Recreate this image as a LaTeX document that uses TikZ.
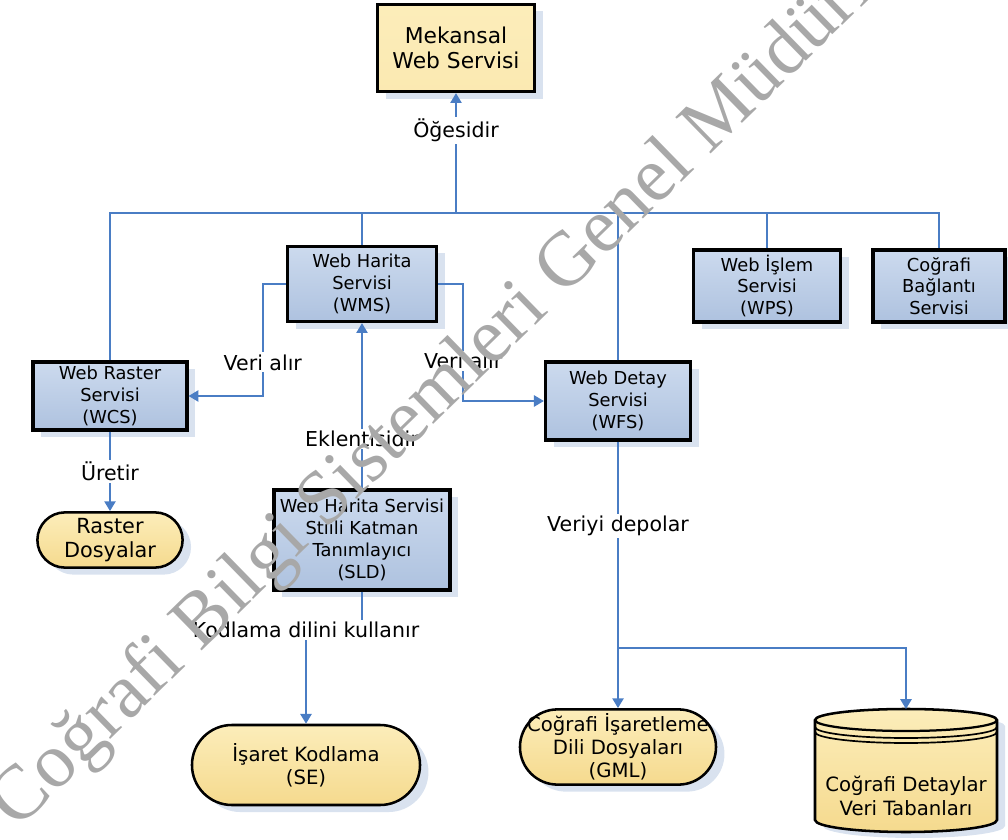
\documentclass[tikz,border=0pt]{standalone}
\usepackage{fontspec}
\setmainfont{DejaVu Sans}
\newfontfamily\wmfont{Liberation Serif}
\usetikzlibrary{shadows, arrows.meta}

\definecolor{svcblue}{HTML}{CCDAEE}
\definecolor{svcblue2}{HTML}{AEC2DF}
\definecolor{docyel}{HTML}{FCEDBA}
\definecolor{docyel2}{HTML}{F5DA8E}
\definecolor{wireblue}{HTML}{4A7DC4}
\definecolor{shadowblue}{HTML}{D9E2EF}
\definecolor{wmgray}{HTML}{A8A8A8}

\begin{document}
\begin{tikzpicture}[
  x=0.025cm, y=-0.025cm,
  font=\fontsize{12.7}{15.5}\selectfont,
  >={Triangle[length=7pt,width=8pt]},
  ln/.style={wireblue, line width=1.3pt},
  arr/.style={->, ln},
  shd/.style={drop shadow={shadow xshift=6pt, shadow yshift=-5pt,
              fill=shadowblue, opacity=1}},
  box/.style={draw=black, line width=2.2pt, align=center, inner sep=1pt,
              top color=svcblue, bottom color=svcblue2, shd},
  mainbox/.style={box, top color=docyel, bottom color=docyel!80!docyel2,
              font=\fontsize{15.5}{17.5}\selectfont},
  pill/.style={draw=black, line width=1.8pt, align=center, inner sep=0pt,
              rounded corners=#1, top color=docyel, bottom color=docyel2, shd,
              font=\fontsize{14}{16.5}\selectfont},
  lbl/.style={fill=white, text=black, inner sep=1.5pt,
              font=\fontsize{14.6}{16}\selectfont},
  wm/.style={text=wmgray, font=\wmfont\fontsize{55}{60}\selectfont},
]
\useasboundingbox (0,0) rectangle (1008,840);

%% ===== TOP =====
\node[mainbox, minimum width=3.93cm, minimum height=2.18cm] (mek) at (456,48)
    {Mekansal\\Web Servisi};

%% ===== SERVICES =====
\node[box, minimum width=3.73cm, minimum height=1.88cm] (wms) at (362,284)
    {Web Harita\\Servisi\\(WMS)};
\node[box, minimum width=3.85cm, minimum height=1.7cm] (wcs) at (110,396)
    {Web Raster\\Servisi\\(WCS)};
\node[box, minimum width=3.63cm, minimum height=1.95cm] (wfs) at (618,401)
    {Web Detay\\Servisi\\(WFS)};
\node[box, minimum width=3.68cm, minimum height=1.8cm] (wps) at (767,286)
    {Web İşlem\\Servisi\\(WPS)};
\node[box, minimum width=3.3cm, minimum height=1.8cm] (cbs) at (939,286)
    {Coğrafi\\Bağlantı\\Servisi};
\node[box, minimum width=4.4cm, minimum height=2.5cm] (sld) at (362,540)
    {Web Harita Servisi\\Stiili Katman\\Tanımlayıcı\\(SLD)};

%% ===== FILES =====
\node[pill=0.69cm, minimum width=3.63cm, minimum height=1.38cm,
      font=\fontsize{14.8}{17}\selectfont] (raster) at (110,540)
    {Raster\\Dosyalar};
\node[pill=1cm, minimum width=5.7cm, minimum height=2cm] (se) at (306,765)
    {İşaret Kodlama\\(SE)};
\node[pill=0.94cm, minimum width=4.9cm, minimum height=1.88cm] (gml) at (618,747)
    {Coğrafi İşaretleme\\Dili Dosyaları\\(GML)};

%% ===== DATABASE =====
\fill[shadowblue, shift={(8,6)}] (815,720) -- (815,820)
    arc[start angle=180, end angle=0, x radius=91, y radius=12] -- (997,720)
    arc[start angle=0, end angle=-180, x radius=91, y radius=11] -- cycle;
\draw[line width=1.8pt, top color=docyel, bottom color=docyel2] (815,720) -- (815,820)
    arc[start angle=180, end angle=0, x radius=91, y radius=12] -- (997,720)
    arc[start angle=0, end angle=-180, x radius=91, y radius=11] -- cycle;
\draw[line width=1.6pt] (815,720) arc[start angle=180, end angle=0, x radius=91, y radius=11];
\draw[line width=1.2pt] (815,727) arc[start angle=180, end angle=0, x radius=91, y radius=11];
\draw[line width=1.2pt] (815,732) arc[start angle=180, end angle=0, x radius=91, y radius=11];
\node[align=center, font=\fontsize{14}{17}\selectfont] (db) at (906,796)
    {Coğrafi Detaylar\\Veri Tabanları};
\coordinate (dbtop) at (906,709);

%% ===== CONNECTORS =====
\coordinate (bus) at (456,213);
\draw[ln] (wcs.north) |- (cbs.north |- bus) -- (cbs.north);
\foreach \n in {wms, wfs, wps}
  \draw[ln] (\n.north) -- (\n.north |- bus);
\draw[arr] (mek.south |- bus) -- node[lbl, pos=0.69] {Öğesidir} (mek.south);

\draw[arr] (wms.west) -- ++(-23,0) |- node[lbl, pos=0.35] {Veri alır} (wcs.east);
\draw[arr] (wms.east) -- ++(25,0) |- node[lbl, pos=0.33] {Veri alır} (wfs.west);
\draw[arr] (sld.north) -- node[lbl, pos=0.3] {Eklentisidir} (wms.south);
\draw[arr] (wcs.south) -- node[lbl] {Üretir} (raster.north);
\draw[arr] (sld.south) -- ++(0,38) -| node[lbl, pos=0.5] {Kodlama dilini kullanır} (se.north);

\coordinate (split) at (618,648);
\draw[ln] (wfs.south) -- node[lbl, pos=0.41] {Veriyi depolar} (split);
\draw[arr] (split) -- (gml.north);
\draw[arr] (split) -| (dbtop);

%% ===== WATERMARK =====
\begin{scope}
  \clip (0,0) rectangle (1008,840);
  \node[wm, rotate=44.3, anchor=base west] (wmark) at (14,834)
      {Coğrafi Bilgi Sistemleri Genel Müdürlüğü};
\end{scope}

\end{tikzpicture}
\end{document}
